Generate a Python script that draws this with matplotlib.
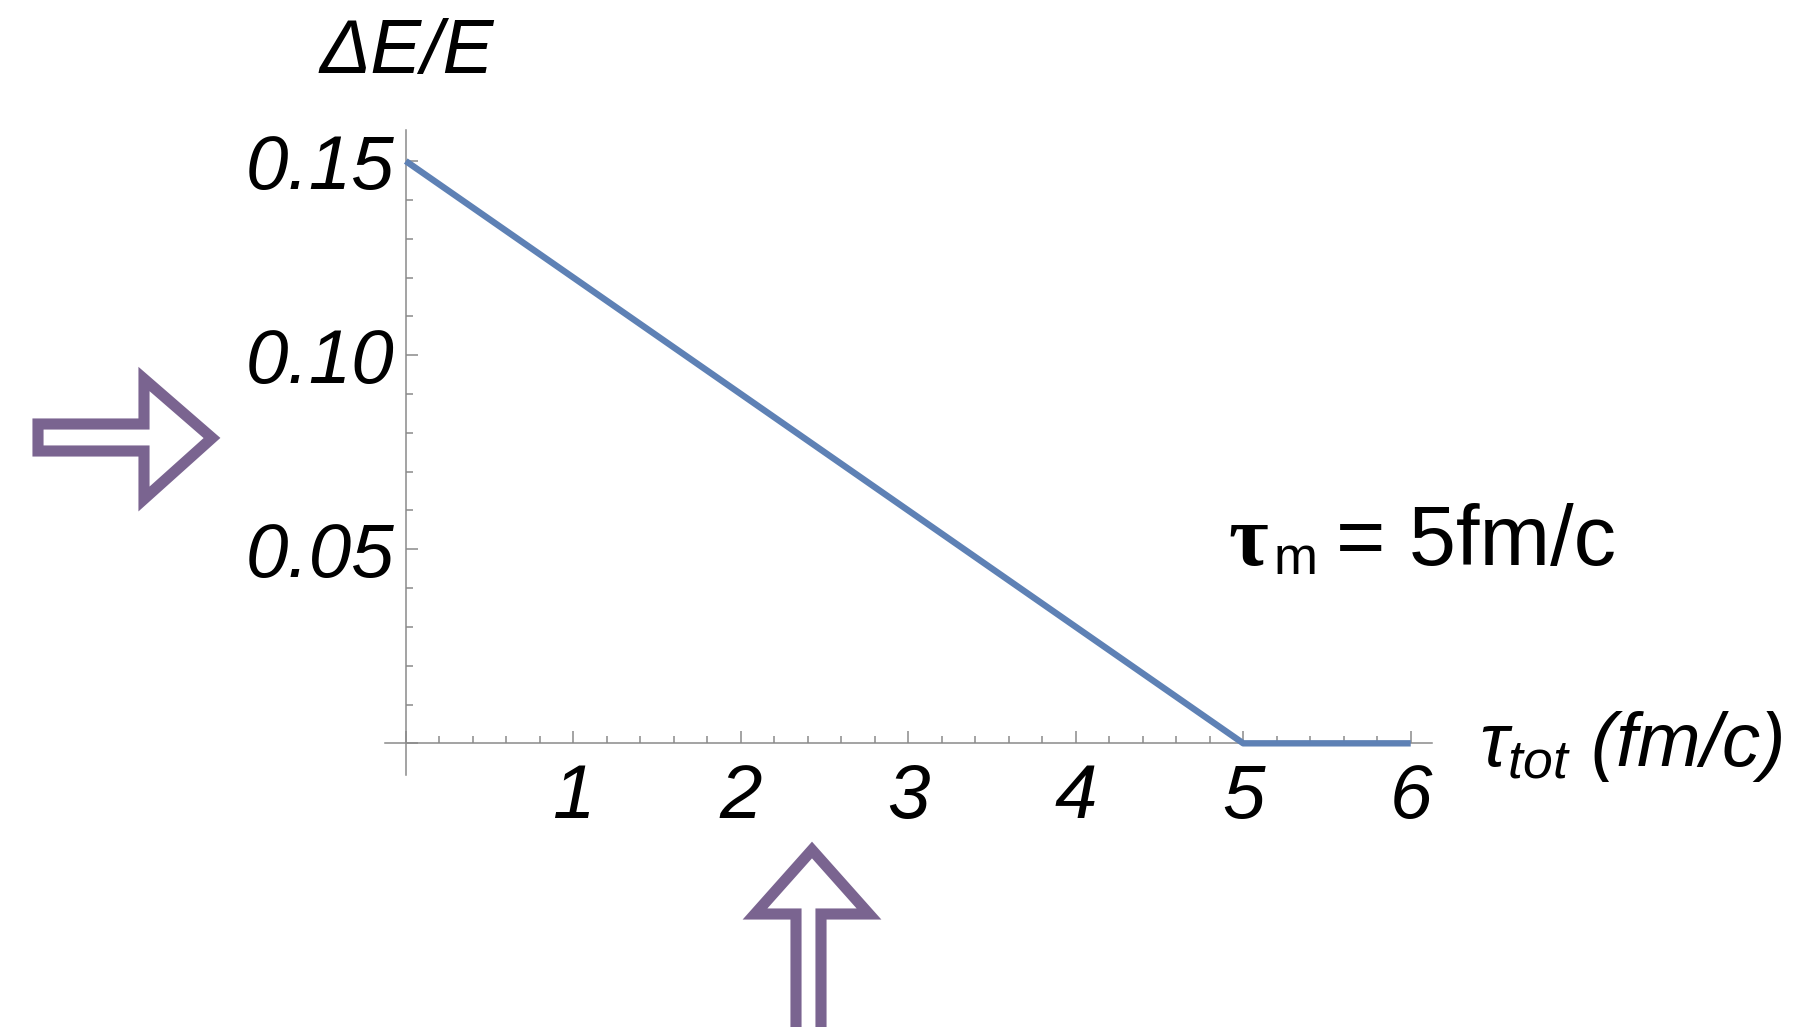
import matplotlib
matplotlib.use('Agg')
import matplotlib.pyplot as plt
from matplotlib.patches import Polygon
from matplotlib.ticker import FixedLocator, MultipleLocator, FixedFormatter

W, H = 1799, 1027

# Energy loss fraction vs. total time (piecewise linear, saturates at tau_m)
tau_tot = [0.0, 5.0, 6.0]
dE_over_E = [0.15, 0.0, 0.0]

x_major = [0, 1, 2, 3, 4, 5, 6]
x_labels = ['', '1', '2', '3', '4', '5', '6']
y_major = [0.0, 0.05, 0.10, 0.15]
y_labels = ['', '0.05', '0.10', '0.15']

LINE_BLUE = '#5E81B5'
AXIS_GRAY = '#8a8a8a'
ARROW_PURPLE = '#7a6490'
FS = 55

plt.rcParams['mathtext.fontset'] = 'custom'
plt.rcParams['mathtext.it'] = 'Liberation Sans:italic'
plt.rcParams['mathtext.rm'] = 'Liberation Sans'


def px(x, y):
    # pixel position (origin top-left) -> figure fraction
    return x / W, 1 - y / H


fig = plt.figure(figsize=(W / 100, H / 100), dpi=100)
left, top = px(385, 130)
right, bottom = px(1432, 775)
ax = fig.add_axes([left, bottom, right - left, top - bottom])
ax.set_xlim(-0.124, 6.127)
ax.set_ylim(-0.00816, 0.158)

ax.plot(tau_tot, dE_over_E, color=LINE_BLUE, lw=4.6, solid_capstyle='butt',
        clip_on=False, zorder=3)

for side in ['top', 'right']:
    ax.spines[side].set_visible(False)
for side in ['left', 'bottom']:
    ax.spines[side].set_position(('data', 0))
    ax.spines[side].set_color(AXIS_GRAY)
    ax.spines[side].set_linewidth(1.1)

ax.xaxis.set_major_locator(FixedLocator(x_major))
ax.xaxis.set_major_formatter(FixedFormatter(x_labels))
ax.xaxis.set_minor_locator(MultipleLocator(0.2))
ax.yaxis.set_major_locator(FixedLocator(y_major))
ax.yaxis.set_major_formatter(FixedFormatter(y_labels))
ax.yaxis.set_minor_locator(MultipleLocator(0.01))

ax.tick_params(which='both', direction='in', color=AXIS_GRAY, width=1.1)
ax.tick_params(which='major', length=8.6)
ax.tick_params(which='minor', length=5)
ax.tick_params(axis='x', which='major', pad=14)
ax.tick_params(axis='y', which='major', pad=8)
for lab in ax.get_xticklabels() + ax.get_yticklabels():
    lab.set_fontfamily('Liberation Sans')
    lab.set_fontstyle('italic')
    lab.set_fontsize(FS)

# axis titles
fig.text(*px(407, 54), '\u0394E/E', family='Liberation Sans', style='italic',
         fontsize=FS, ha='center', va='center')
fig.text(*px(1479, 766), r'$\tau_{tot}$ (fm/c)', family='Liberation Sans',
         style='italic', fontsize=FS, ha='left', va='baseline')

# tau_m annotation
fig.text(*px(1228, 565), '\u03c4', family='Liberation Serif', weight='bold',
         fontsize=62, ha='left', va='baseline')
fig.text(*px(1274, 574), 'm', family='Liberation Sans', fontsize=38,
         ha='left', va='baseline')
fig.text(*px(1336, 565), '= 5fm/c', family='Liberation Sans', fontsize=61,
         ha='left', va='baseline')

# hollow pointer arrows
right_arrow = [(38, 424), (144, 424), (144, 379), (212, 438), (144, 499),
               (144, 451), (38, 451)]
up_arrow = [(796, 1040), (796, 914), (755, 914), (812, 850), (869, 914),
            (821, 914), (821, 1040)]
for pts in [right_arrow, up_arrow]:
    poly = Polygon([px(*p) for p in pts], closed=True, transform=fig.transFigure,
                   facecolor='none', edgecolor=ARROW_PURPLE, lw=8,
                   joinstyle='miter')
    fig.patches.append(poly)

fig.savefig('out.png', dpi=100)
